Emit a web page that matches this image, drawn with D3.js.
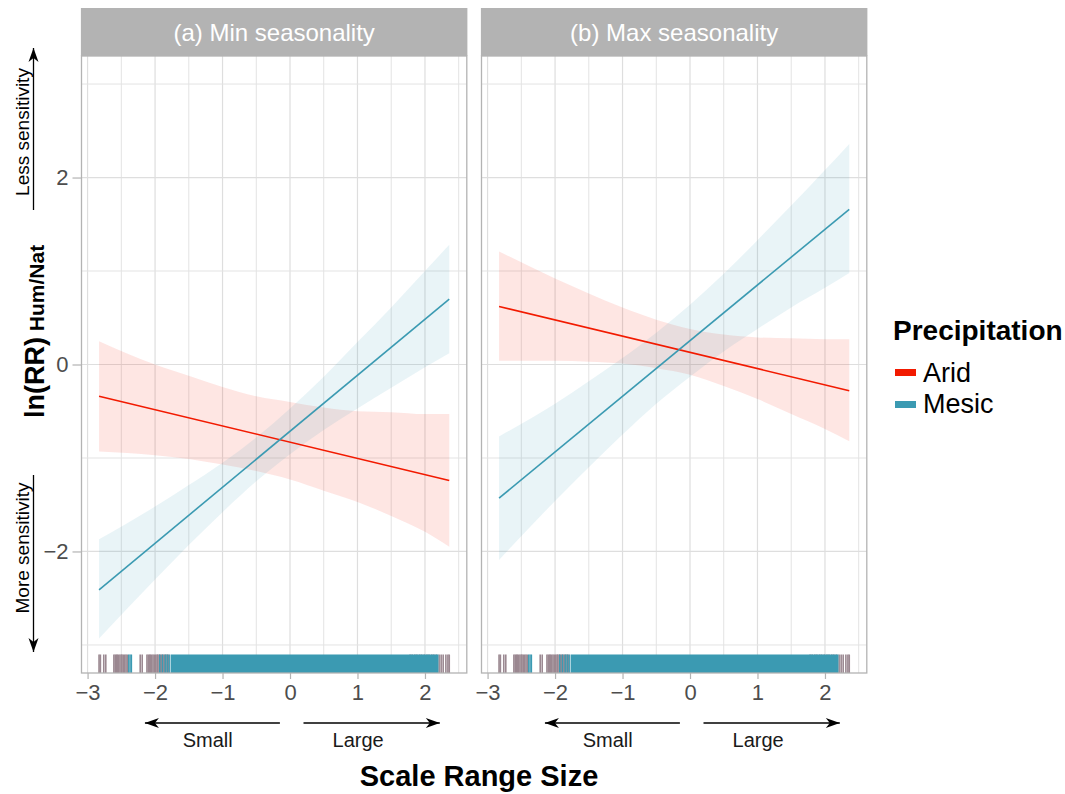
<!DOCTYPE html>
<html>
<head>
<meta charset="utf-8">
<script src="https://cdnjs.cloudflare.com/ajax/libs/d3/7.8.5/d3.min.js"></script>
<style>
  body { margin: 0; background: #fff; }
  svg { font-family: 'Liberation Sans', Arial, Helvetica, sans-serif; }
</style>
</head>
<body>
<svg width="1065" height="794"></svg>
<script>
const panelTitles = ['(a) Min seasonality', '(b) Max seasonality'];
const groups = ['Arid', 'Mesic'];
const groupColors = ['#F21A00', '#3B9AB2'];
const xTicks = [-3, -2, -1, 0, 1, 2];
const yTicks = [-2, 0, 2];

const bandX = [-2.83, -2, -1.5, -1, -0.5, 0, 0.5, 1, 1.5, 2, 2.36];
const lineX = [-2.83, 2.36];

// panel (a)
const aridLineA = [-0.34, -1.24];
const mesicLineA = [-2.41, 0.70];
const aridUpperA = [0.25, 0.00, -0.12, -0.24, -0.34, -0.40, -0.46, -0.50, -0.51, -0.53, -0.53];
const aridLowerA = [-0.93, -0.97, -1.01, -1.07, -1.14, -1.23, -1.35, -1.47, -1.62, -1.79, -1.95];
const mesicUpperA = [-1.87, -1.52, -1.29, -1.05, -0.78, -0.47, -0.13, 0.24, 0.61, 1.00, 1.28];
const mesicLowerA = [-2.93, -2.30, -1.93, -1.58, -1.25, -0.96, -0.70, -0.47, -0.25, -0.03, 0.12];

// panel (b)
const aridLineB = [0.62, -0.28];
const mesicLineB = [-1.43, 1.66];
const aridUpperB = [1.21, 0.92, 0.76, 0.61, 0.48, 0.38, 0.32, 0.29, 0.28, 0.27, 0.27];
const aridLowerB = [0.04, 0.04, 0.03, 0.01, -0.04, -0.11, -0.23, -0.37, -0.53, -0.69, -0.82];
const mesicUpperB = [-0.77, -0.42, -0.18, 0.07, 0.34, 0.64, 0.97, 1.33, 1.70, 2.08, 2.36];
const mesicLowerB = [-2.09, -1.46, -1.10, -0.75, -0.42, -0.13, 0.14, 0.38, 0.61, 0.82, 0.98];

// rug
const aridRug = [-2.83, -2.81, -2.76, -2.73, -2.61, -2.59, -2.57, -2.56, -2.54, -2.52, -2.50,
  -2.49, -2.47, -2.45, -2.43, -2.41, -2.22, -2.19, -2.12, -2.10, -2.08, -2.07, -2.05, -2.03,
  -2.01, -1.99, -1.97, -1.96, -1.94, -1.92, -1.90, -1.88, -1.86, -1.84, -1.82, -1.80, 1.78,
  1.81, 1.85, 1.88, 1.92, 1.95, 1.99, 2.03, 2.06, 2.10, 2.13, 2.17, 2.21, 2.24, 2.27, 2.31,
  2.34, 2.36];
const mesicRug = [-2.39, -2.37, -2.35, -1.93, -1.89, -1.85, -1.82, -1.79];
const mesicRugSpan = [-1.77, 2.20];

const panelData = [
  {
    title: panelTitles[0],
    lines: [aridLineA, mesicLineA],
    upper: [aridUpperA, mesicUpperA],
    lower: [aridLowerA, mesicLowerA]
  },
  {
    title: panelTitles[1],
    lines: [aridLineB, mesicLineB],
    upper: [aridUpperB, mesicUpperB],
    lower: [aridLowerB, mesicLowerB]
  }
];

const svg = d3.select('svg');

const panelLeft = [81.5, 481.5];
const panelW = 385.3;
const stripTop = 8;
const panelTop = 56;
const panelBottom = 673;

const y = d3.scaleLinear().domain([-3.3, 3.3]).range([panelBottom, panelTop]);

const defs = svg.append('defs');
defs.append('marker')
  .attr('id', 'head')
  .attr('viewBox', '-15 -6 16 12')
  .attr('refX', 0)
  .attr('refY', 0)
  .attr('markerUnits', 'userSpaceOnUse')
  .attr('markerWidth', 16)
  .attr('markerHeight', 12)
  .attr('orient', 'auto')
  .append('path')
  .attr('d', 'M0,0L-14,-5L-10,0L-14,5Z')
  .attr('fill', '#000');

panelData.forEach((p, i) => {
  const x = d3.scaleLinear().domain([-3.09, 2.62]).range([panelLeft[i], panelLeft[i] + panelW]);
  const g = svg.append('g');

  // grid
  const minorX = d3.range(-3, 3, 0.5).filter(v => v % 1 !== 0);
  g.selectAll('.gx-minor')
    .data(minorX.filter(v => v > x.domain()[0] && v < x.domain()[1]))
    .enter().append('line')
    .attr('x1', d => x(d)).attr('x2', d => x(d))
    .attr('y1', panelTop).attr('y2', panelBottom)
    .attr('stroke', '#e3e3e3').attr('stroke-width', 1);
  g.selectAll('.gx-major')
    .data(xTicks)
    .enter().append('line')
    .attr('x1', d => x(d)).attr('x2', d => x(d))
    .attr('y1', panelTop).attr('y2', panelBottom)
    .attr('stroke', '#dedede').attr('stroke-width', 1.2);
  g.selectAll('.gy-minor')
    .data([-3, -1, 1, 3])
    .enter().append('line')
    .attr('x1', x.range()[0]).attr('x2', x.range()[1])
    .attr('y1', d => y(d)).attr('y2', d => y(d))
    .attr('stroke', '#e3e3e3').attr('stroke-width', 1);
  g.selectAll('.gy-major')
    .data(yTicks)
    .enter().append('line')
    .attr('x1', x.range()[0]).attr('x2', x.range()[1])
    .attr('y1', d => y(d)).attr('y2', d => y(d))
    .attr('stroke', '#dedede').attr('stroke-width', 1.2);

  // ribbons
  const area = d3.area()
    .x(d => x(d.x))
    .y0(d => y(d.lo))
    .y1(d => y(d.hi))
    .curve(d3.curveMonotoneX);

  groups.forEach((grp, k) => {
    g.append('path')
      .datum(bandX.map((bx, j) => ({ x: bx, lo: p.lower[k][j], hi: p.upper[k][j] })))
      .attr('d', area)
      .attr('fill', groupColors[k])
      .attr('fill-opacity', 0.11);
  });

  const line = d3.line().x(d => x(d[0])).y(d => y(d[1]));
  groups.forEach((grp, k) => {
    g.append('path')
      .datum(lineX.map((lx, j) => [lx, p.lines[k][j]]))
      .attr('d', line)
      .attr('fill', 'none')
      .attr('stroke', groupColors[k])
      .attr('stroke-width', 1.6);
  });

  // rug
  const rugTop = panelBottom - 0.03 * (panelBottom - panelTop);
  g.selectAll('.rug-arid')
    .data(aridRug)
    .enter().append('line')
    .attr('x1', d => x(d)).attr('x2', d => x(d))
    .attr('y1', rugTop).attr('y2', panelBottom)
    .attr('stroke', '#9b8891').attr('stroke-width', 1.6);
  g.selectAll('.rug-mesic')
    .data(mesicRug)
    .enter().append('line')
    .attr('x1', d => x(d)).attr('x2', d => x(d))
    .attr('y1', rugTop).attr('y2', panelBottom)
    .attr('stroke', '#3B9AB2').attr('stroke-width', 1.4);
  g.append('rect')
    .attr('x', x(mesicRugSpan[0]))
    .attr('width', x(mesicRugSpan[1]) - x(mesicRugSpan[0]))
    .attr('y', rugTop)
    .attr('height', panelBottom - rugTop)
    .attr('fill', '#3B9AB2');

  // border + strip
  g.append('rect')
    .attr('x', x.range()[0]).attr('y', panelTop)
    .attr('width', panelW).attr('height', panelBottom - panelTop)
    .attr('fill', 'none').attr('stroke', '#b3b3b3').attr('stroke-width', 1.3);
  g.append('rect')
    .attr('x', x.range()[0] - 0.6).attr('y', stripTop)
    .attr('width', panelW + 1.2).attr('height', panelTop - stripTop)
    .attr('fill', '#b3b3b3');
  g.append('text')
    .attr('x', x.range()[0] + panelW / 2)
    .attr('y', 41)
    .attr('text-anchor', 'middle')
    .attr('fill', '#fff')
    .attr('font-size', 24)
    .text(p.title);

  // x axis
  g.append('g')
    .attr('transform', `translate(0,${panelBottom})`)
    .call(d3.axisBottom(x).tickValues(xTicks).tickSize(6).tickPadding(5)
      .tickFormat(d => d3.format('')(d).replace('-', '\u2212')))
    .call(a => a.select('.domain').remove())
    .call(a => a.selectAll('line').attr('stroke', '#b3b3b3').attr('stroke-width', 1.2))
    .call(a => a.selectAll('text')
      .attr('fill', '#4d4d4d')
      .attr('font-size', 22)
      .attr('font-family', 'Liberation Sans, Arial, sans-serif'));

  // Small / Large annotations
  g.append('line')
    .attr('x1', x(-0.15)).attr('x2', x(-2.15))
    .attr('y1', 723).attr('y2', 723)
    .attr('stroke', '#000').attr('stroke-width', 1.3)
    .attr('marker-end', 'url(#head)');
  g.append('line')
    .attr('x1', x(0.2)).attr('x2', x(2.22))
    .attr('y1', 723).attr('y2', 723)
    .attr('stroke', '#000').attr('stroke-width', 1.3)
    .attr('marker-end', 'url(#head)');
  g.append('text')
    .attr('x', x(-1.22)).attr('y', 747)
    .attr('text-anchor', 'middle')
    .attr('font-size', 20)
    .attr('fill', '#1a1a1a')
    .text('Small');
  g.append('text')
    .attr('x', x(1.01)).attr('y', 747)
    .attr('text-anchor', 'middle')
    .attr('font-size', 20)
    .attr('fill', '#1a1a1a')
    .text('Large');
});

// y axis
svg.append('g')
  .attr('transform', `translate(${panelLeft[0]},0)`)
  .call(d3.axisLeft(y).tickValues(yTicks).tickSize(9).tickPadding(4)
    .tickFormat(d => d3.format('')(d).replace('-', '\u2212')))
  .call(a => a.select('.domain').remove())
  .call(a => a.selectAll('line').attr('stroke', '#b3b3b3').attr('stroke-width', 1.2))
  .call(a => a.selectAll('text')
    .attr('fill', '#4d4d4d')
    .attr('font-size', 22)
    .attr('font-family', 'Liberation Sans, Arial, sans-serif'));

// y title
const yTitle = svg.append('text')
  .attr('transform', 'translate(44,418) rotate(-90)')
  .attr('font-weight', 'bold')
  .attr('fill', '#000');
yTitle.append('tspan').attr('font-size', 27).text('ln(RR)');
yTitle.append('tspan').attr('font-size', 21).text(' Hum/Nat');

// sensitivity arrows
svg.append('line')
  .attr('x1', 33.5).attr('x2', 33.5)
  .attr('y1', 210).attr('y2', 48)
  .attr('stroke', '#000').attr('stroke-width', 1.3)
  .attr('marker-end', 'url(#head)');
svg.append('text')
  .attr('transform', 'translate(29,132) rotate(-90)')
  .attr('text-anchor', 'middle')
  .attr('font-size', 19)
  .attr('fill', '#000')
  .text('Less sensitivity');
svg.append('line')
  .attr('x1', 33.5).attr('x2', 33.5)
  .attr('y1', 475).attr('y2', 652)
  .attr('stroke', '#000').attr('stroke-width', 1.3)
  .attr('marker-end', 'url(#head)');
svg.append('text')
  .attr('transform', 'translate(29,548) rotate(-90)')
  .attr('text-anchor', 'middle')
  .attr('font-size', 19)
  .attr('fill', '#000')
  .text('More sensitivity');

// x title
svg.append('text')
  .attr('x', 479).attr('y', 786)
  .attr('text-anchor', 'middle')
  .attr('font-size', 29)
  .attr('font-weight', 'bold')
  .attr('fill', '#000')
  .text('Scale Range Size');

// legend
const legend = svg.append('g').attr('transform', 'translate(893,0)');
legend.append('text')
  .attr('x', 0).attr('y', 340)
  .attr('font-size', 28)
  .attr('font-weight', 'bold')
  .text('Precipitation');
legend.selectAll('.key')
  .data(groups)
  .enter().append('rect')
  .attr('x', 2)
  .attr('y', (d, i) => 369 + i * 32)
  .attr('width', 21)
  .attr('height', 7)
  .attr('fill', (d, i) => groupColors[i]);
legend.selectAll('.lab')
  .data(groups)
  .enter().append('text')
  .attr('x', 30)
  .attr('y', (d, i) => 382 + i * 31)
  .attr('font-size', 27)
  .attr('fill', '#000')
  .text(d => d);
</script>
</body>
</html>
